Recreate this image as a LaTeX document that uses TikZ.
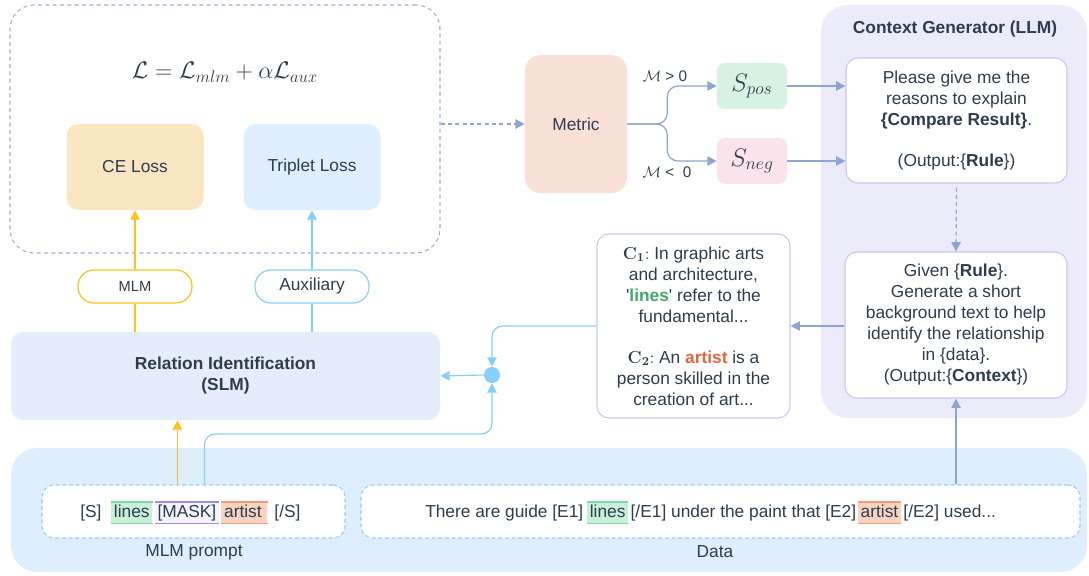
\RequirePackage{fix-cm}
\documentclass[tikz,border=0pt]{standalone}
\usepackage[no-math]{fontspec}
\setmainfont{Liberation Sans}
\newfontfamily\rawsans{Liberation Sans}
\usepackage{amsmath,amssymb}
\usepackage{xcolor}
\usetikzlibrary{arrows.meta,positioning,calc}
\definecolor{ink}{HTML}{2E3D4E}
\definecolor{lossdash}{HTML}{9AAED6}
\definecolor{cefill}{HTML}{FBE6C2}
\definecolor{tripfill}{HTML}{DEEEFC}
\definecolor{mlmorange}{HTML}{FFC21A}
\definecolor{auxblue}{HTML}{86CFFA}
\definecolor{relfill}{HTML}{E5EDFA}
\definecolor{metricfill}{HTML}{F9E1D8}
\definecolor{posfill}{HTML}{D7F2E2}
\definecolor{negfill}{HTML}{FBE3EC}
\definecolor{flowblue}{HTML}{8EA4D1}
\definecolor{genbg}{HTML}{ECEBFA}
\definecolor{promptline}{HTML}{CBC5F3}
\definecolor{databg}{HTML}{DFEEFC}
\definecolor{inboxdash}{HTML}{8FD0F8}
\definecolor{hlgreenfill}{HTML}{C8EFD8}
\definecolor{hlgreenline}{HTML}{82D8A5}
\definecolor{hlpurplefill}{HTML}{F5F3FF}
\definecolor{hlpurpleline}{HTML}{9D8DF1}
\definecolor{hlorangefill}{HTML}{F8D3C0}
\definecolor{hlorangeline}{HTML}{EF9F7E}
\definecolor{linesgreen}{HTML}{43A96B}
\definecolor{artistred}{HTML}{E2673F}
\newcommand{\bodyfont}{\fontsize{13}{15.75}\selectfont}
\newcommand{\sq}{{\rawsans\char"27}}
\tikzset{
  base/.style={text=ink, font=\bodyfont, align=center},
  card/.style={rounded corners=9pt, inner sep=0pt},
  panel/.style={rounded corners=20pt, inner sep=0pt},
  lossarea/.style={draw=lossdash, dash pattern=on 3pt off 2.5pt, line width=0.8pt, rounded corners=18pt, inner sep=0pt},
  pill/.style={fill=white, line width=0.9pt, rounded corners=12pt, minimum width=85.5pt, minimum height=24.75pt},
  prompt/.style={draw=promptline, fill=white, line width=0.8pt, rounded corners=9pt, inner sep=0pt},
  inbox/.style={draw=inboxdash, dash pattern=on 3pt off 2pt, fill=white, line width=0.8pt, rounded corners=9pt, minimum height=39.75pt},
  cond/.style={font=\fontsize{11.5}{13}\selectfont, inner sep=0pt},
  score/.style={card, rounded corners=6pt, minimum width=52.5pt, minimum height=34.5pt, font=\fontsize{19}{22}\selectfont},
  word/.style={inner sep=0pt, text height=9.5pt, text depth=3pt, anchor=base west},
  hlword/.style={word, inner xsep=2pt, inner ysep=1.6pt},
  tip/.style={-{Triangle[length=7pt,width=7pt]}},
  flow/.style={tip, draw=flowblue, line width=0.9pt},
  skyflow/.style={tip, draw=auxblue, line width=0.9pt},
  goldflow/.style={tip, draw=mlmorange, line width=0.9pt},
}

\begin{document}
\begin{tikzpicture}[x=0.75pt, y=-0.75pt, every node/.style={base}]
  \useasboundingbox (0,0) rectangle (1089,575);

  % background panels
  \node[panel, fill=genbg, minimum width=199.5pt, minimum height=309.75pt] (gen) at (954,211.5) {};
  \node[panel, fill=databg, minimum width=807pt, minimum height=93pt] (inputs) at (549,510) {};
  \node[font=\bodyfont\bfseries] (gentitle) at (955,29) {Context Generator (LLM)};

  % training objective
  \node[lossarea, minimum width=322.5pt, minimum height=186pt] (loss) at (225,129) {};
  \node[font=\fontsize{18}{22}\selectfont] (lossfn) at (225,72)
    {$\mathcal{L}=\mathcal{L}_{mlm}+\alpha\mathcal{L}_{aux}$};
  \node[card, fill=cefill, minimum width=102.75pt, minimum height=64.5pt] (ce) at (135,167) {CE Loss};
  \node[card, fill=tripfill, minimum width=102.75pt, minimum height=64.5pt] (trip) at (312,167) {Triplet Loss};
  \node[pill, draw=mlmorange, font=\fontsize{11}{13}\selectfont] (mlm) at (135,286.5) {MLM};
  \node[pill, draw=auxblue] (aux) at (312,286.5) {Auxiliary};
  \node[card, fill=relfill, minimum width=321.75pt, minimum height=66pt, font=\bodyfont\bfseries]
    (rel) at (225.5,376) {Relation Identification\\(SLM)};
  \node[circle, fill=auxblue, minimum size=12pt, inner sep=0pt] (junc) at (492,375) {};

  % metric and its two outcomes
  \node[card, fill=metricfill, rounded corners=12pt, minimum width=76.5pt, minimum height=103.5pt] (metric) at (576,124) {Metric};
  \node[score, fill=posfill] (spos) at (752,86) {$S_{pos}$};
  \node[score, fill=negfill] (sneg) at (752,161) {$S_{neg}$};
  \node[cond] (gtz) at (665,76) {$\mathcal{M}$ > 0};
  \node[cond] (ltz) at (667,172) {$\mathcal{M}$ <\ \ 0};

  % LLM prompts
  \node[prompt, minimum width=165.75pt, minimum height=93.75pt] (ask) at (956.5,120.5)
    {Please give me the\\ reasons to explain\\ \textbf{\{Compare Result\}}.\\[15pt] (Output:\{\textbf{Rule}\})};
  \node[prompt, minimum width=166.5pt, minimum height=109.5pt] (gen2) at (956,325)
    {Given \{\textbf{Rule}\}.\\ Generate a short\\ background text to help\\ identify the relationship\\ in \{data\}.\\ (Output:\{\textbf{Context}\})};
  \node[prompt, minimum width=144.75pt, minimum height=138pt] (ctx) at (693.5,326)
    {$\mathbf{C_1{:}}$ In graphic arts\\ and architecture,\\ \sq\textcolor{linesgreen}{\textbf{lines}}\sq{} refer to the\\ fundamental...\\[15pt]
     $\mathbf{C_2{:}}$ An \textcolor{artistred}{\textbf{artist}} is a\\ person skilled in the\\ creation of art...};

  % inputs
  \node[inbox, minimum width=227.25pt] (prompt) at (193.5,511.5) {};
  \node[inbox, minimum width=539.25pt] (data) at (720.5,511.5) {};
  \node (promptlab) at (194,552) {MLM prompt};
  \node (datalab) at (715,552) {Data};

  \node[word] (m1) at (80,517) {[S]};
  \node[hlword, fill=hlgreenfill] (m2) at ([xshift=7pt]m1.base east) {lines};
  \node[hlword, fill=hlpurplefill] (m3) at ([xshift=1.5pt]m2.base east) {[MASK]};
  \node[hlword, fill=hlorangefill] (m4) at ([xshift=1.5pt]m3.base east) {artist\,};
  \node[word] (m5) at ([xshift=5pt]m4.base east) {[/S]};

  \node[word] (d1) at (425,517) {There are guide [E1]};
  \node[hlword, fill=hlgreenfill] (d2) at ([xshift=2.5pt]d1.base east) {lines};
  \node[word] (d3) at ([xshift=1.5pt]d2.base east) {[/E1] under the paint that [E2]};
  \node[hlword, fill=hlorangefill] (d4) at ([xshift=1pt]d3.base east) {artist};
  \node[word] (d5) at ([xshift=1.5pt]d4.base east) {[/E2] used...};

  \foreach \w/\c in {m2/hlgreenline, m3/hlpurpleline, m4/hlorangeline, d2/hlgreenline, d4/hlorangeline}
    \draw[draw=\c, line width=1.1pt] (\w.north west) -- (\w.north east) (\w.south west) -- (\w.south east);

  % connectors
  \coordinate (goldtap) at ([xshift=102pt]prompt.north west);
  \coordinate (skytap) at ([xshift=122.25pt]prompt.north west);
  \coordinate (jbend) at (492,434);

  \draw[goldflow] (goldtap) -- (goldtap |- rel.south);
  \draw[draw=mlmorange, line width=0.9pt] (rel.north -| mlm.south) -- (mlm.south);
  \draw[goldflow] (mlm.north) -- (ce.south);
  \draw[draw=auxblue, line width=0.9pt] (rel.north -| aux.south) -- (aux.south);
  \draw[skyflow] (aux.north) -- (trip.south);

  \draw[skyflow, rounded corners=8pt] (skytap) |- (jbend) -- (junc.south);
  \draw[skyflow, rounded corners=8pt] (ctx.west) -| (junc.north);
  \draw[skyflow] (junc.west) -- (rel.east);

  \draw[flow, dash pattern=on 3pt off 2.5pt] (loss.east |- metric.west) -- (metric.west);
  \draw[flow, rounded corners=8pt] (metric.east) -- ++(40,0) |- (spos.west);
  \draw[flow, rounded corners=8pt] (metric.east) -- ++(40,0) |- (sneg.west);
  \draw[flow] (spos.east) -- (ask.west |- spos.east);
  \draw[flow] (sneg.east) -- (ask.west |- sneg.east);
  \draw[flow, dash pattern=on 3pt off 2.5pt] ([yshift=-3pt]ask.south) -- (gen2.north);
  \draw[flow] (data.north -| gen2.south) -- (gen2.south);
  \draw[flow] (gen2.west |- ctx.east) -- (ctx.east);
\end{tikzpicture}
\end{document}
